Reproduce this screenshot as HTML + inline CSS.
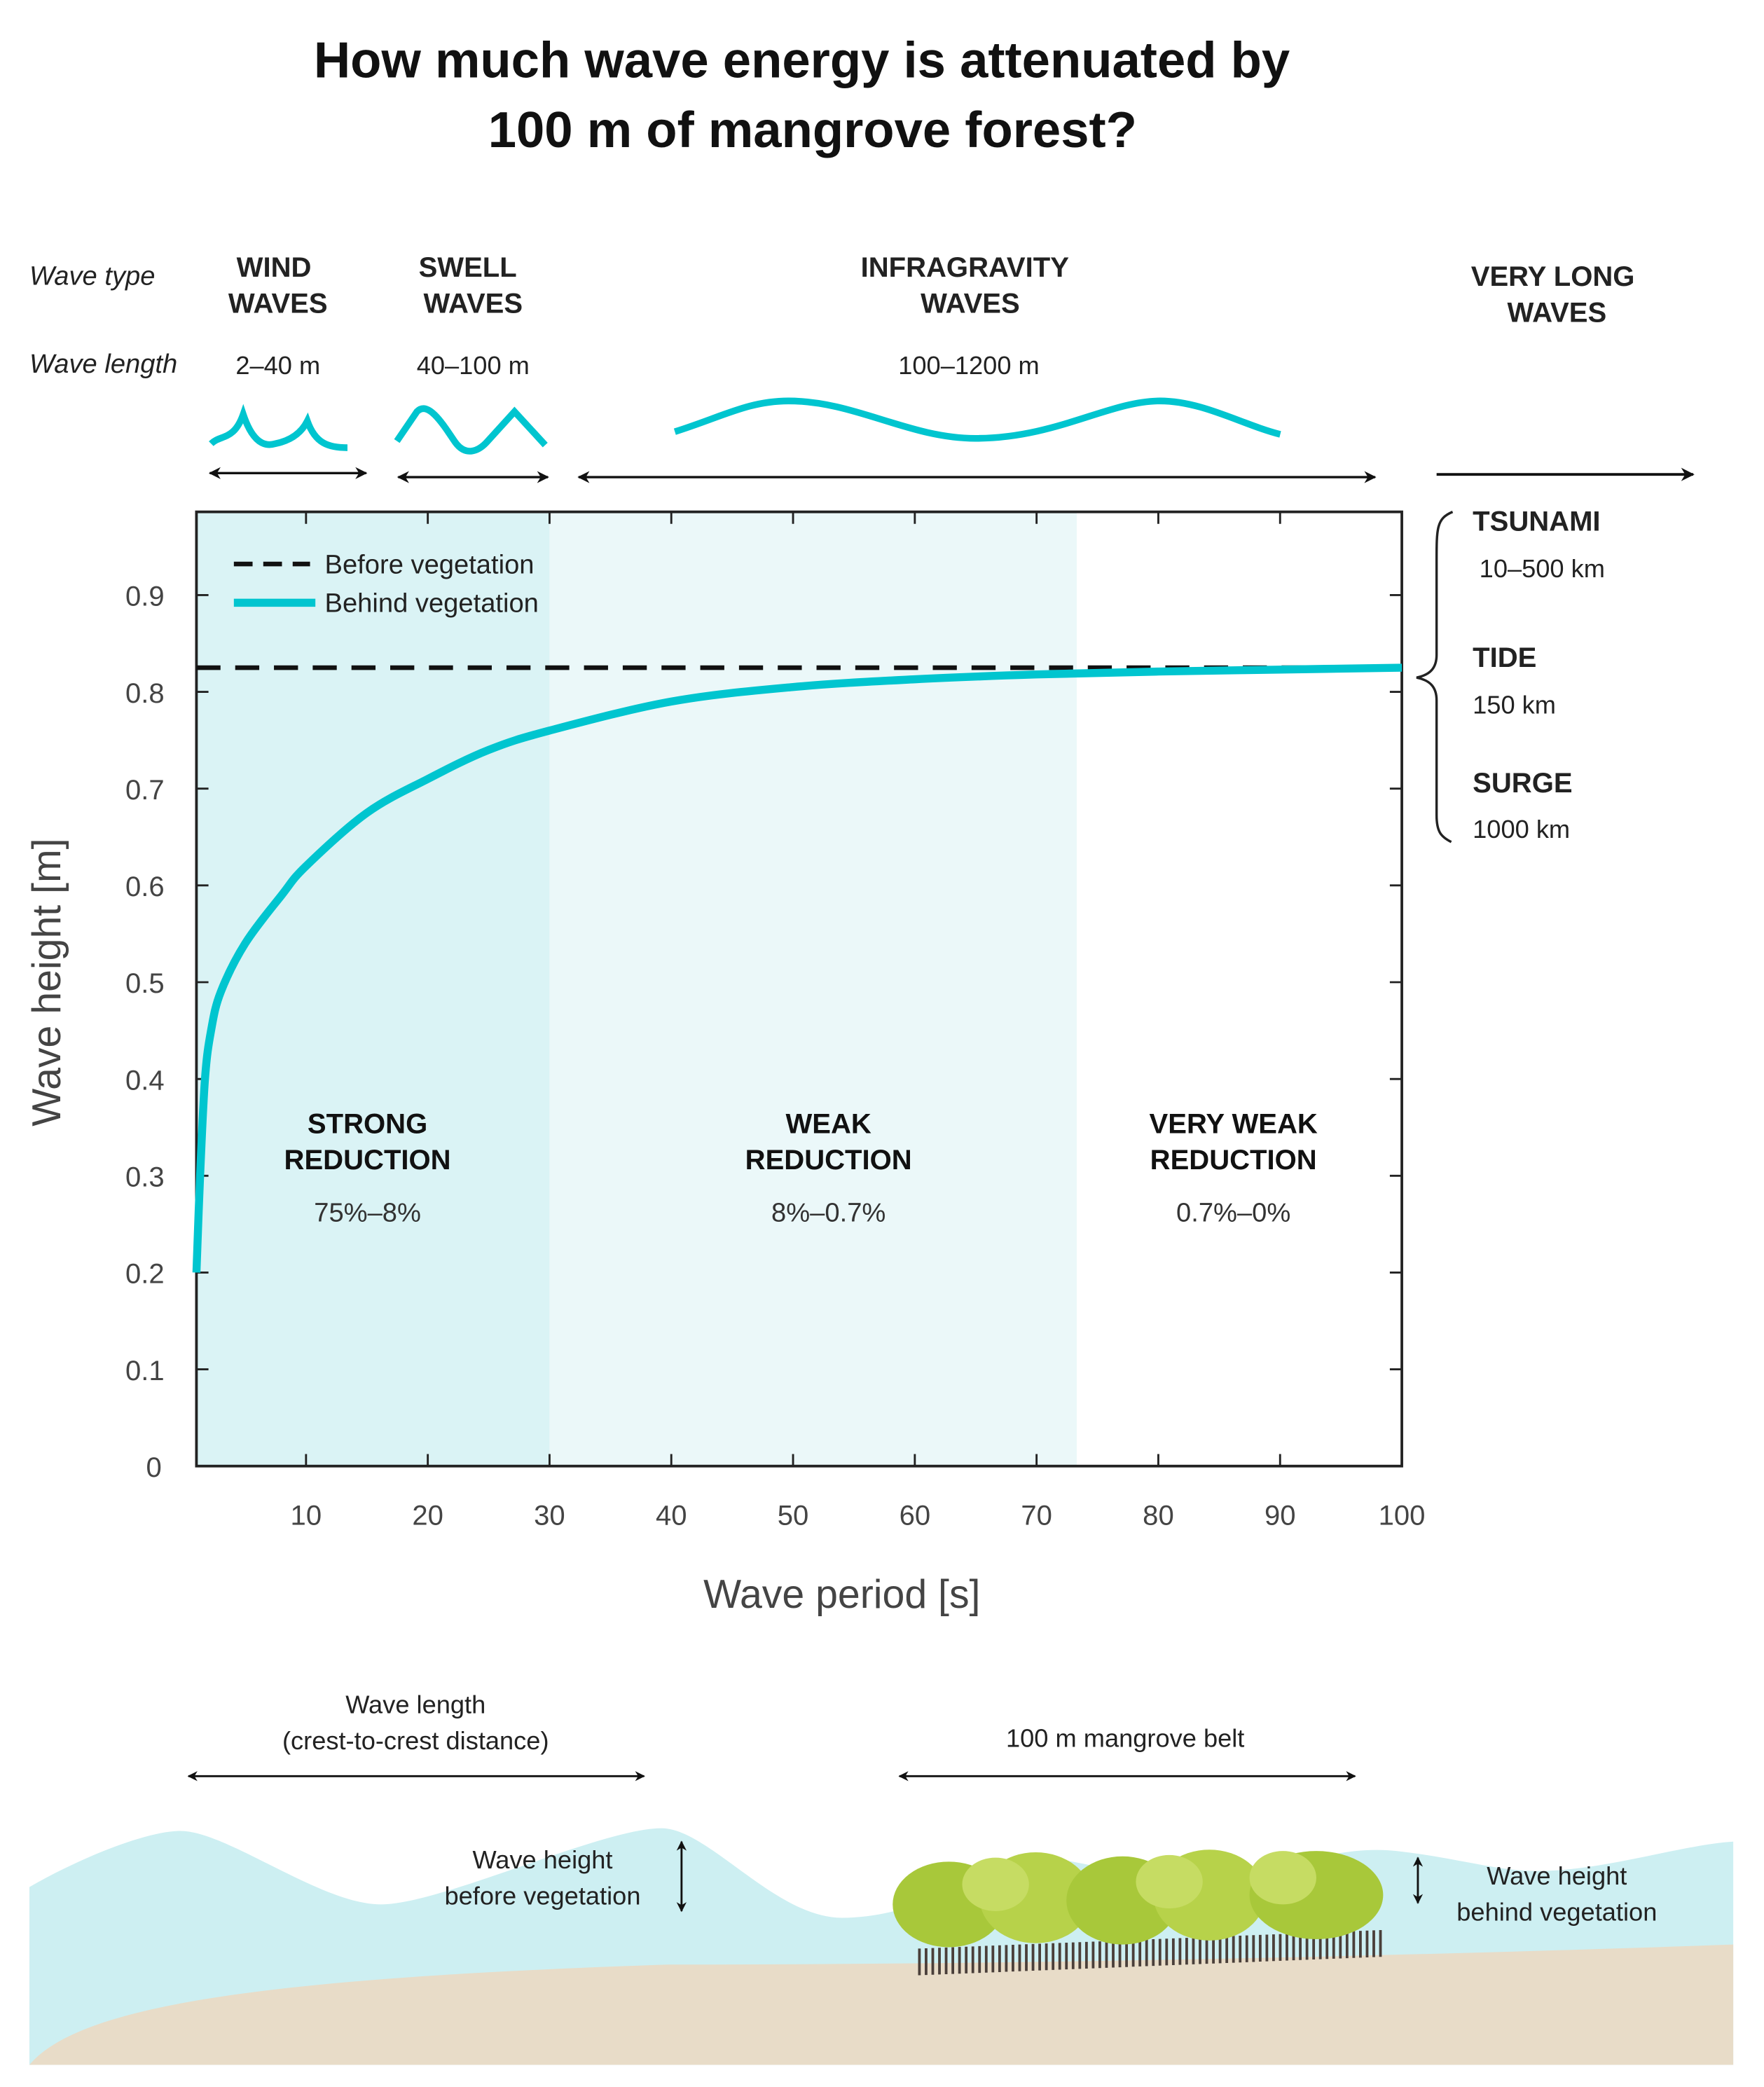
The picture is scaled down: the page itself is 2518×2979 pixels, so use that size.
<!DOCTYPE html>
<html><head><meta charset="utf-8"><style>
html,body{margin:0;padding:0;background:#fff;}
svg{display:block;}
text{font-family:"Liberation Sans","DejaVu Sans",sans-serif;}
</style></head><body>
<svg id="chart" width="2518" height="2979" viewBox="0 0 1320 1561.6" preserveAspectRatio="none" xmlns="http://www.w3.org/2000/svg">
<defs>
<marker id="ah" viewBox="0 0 10 10" refX="9" refY="5" markerWidth="5" markerHeight="5" orient="auto-start-reverse"><path d="M0,0 L10,5 L0,10 L3,5 z" fill="#111"/></marker>
</defs>
<g font-weight="bold" font-size="38" fill="#111" text-anchor="middle">
<text x="600" y="58">How much wave energy is attenuated by</text>
<text x="608" y="110">100 m of mangrove forest?</text>
</g>
<g fill="#222">
<text x="22" y="213" font-size="20" font-style="italic">Wave type</text>
<text x="22" y="279" font-size="20" font-style="italic">Wave length</text>
<g font-size="21" font-weight="bold" text-anchor="middle">
<text x="205" y="207">WIND</text><text x="208" y="234">WAVES</text>
<text x="350" y="207">SWELL</text><text x="354" y="234">WAVES</text>
<text x="722" y="207">INFRAGRAVITY</text><text x="726" y="234">WAVES</text>
<text x="1162" y="214">VERY LONG</text><text x="1165" y="241">WAVES</text>
</g>
<g font-size="19" text-anchor="middle">
<text x="208" y="280">2–40 m</text><text x="354" y="280">40–100 m</text><text x="725" y="280">100–1200 m</text>
</g>
</g>
<g fill="none" stroke="#00c5cf" stroke-width="5">
<path d="M158,332 C165,325 175,330 182,310 C188,328 196,335 206,332 C216,330 225,325 230,315 C236,332 246,335 260,335"/>
<path d="M297,330 L312,308 C320,300 330,315 340,330 C348,342 358,338 365,330 L385,308 L408,333"/>
<path d="M505,323 C540,312 560,300 590,300 C640,300 680,328 730,328 C790,328 830,300 868,300 C900,300 930,318 958,325"/>
</g>
<g stroke="#111" stroke-width="1.8" marker-start="url(#ah)" marker-end="url(#ah)">
<line x1="157" y1="354" x2="274" y2="354"/>
<line x1="298" y1="357" x2="410" y2="357"/>
<line x1="433" y1="357" x2="1029" y2="357"/>
</g>
<line x1="1075" y1="355" x2="1267" y2="355" stroke="#111" stroke-width="2" marker-end="url(#ah)"/>
<g id="plot"></g>
<g fill="#222">
<path d="M1087,383 C1075,388 1075,395 1075,420 L1075,490 C1075,500 1070,505 1060,507 C1070,509 1075,514 1075,524 L1075,610 C1075,622 1078,626 1086,630" fill="none" stroke="#222" stroke-width="1.8"/>
<g font-size="21" font-weight="bold"><text x="1102" y="397">TSUNAMI</text><text x="1102" y="499">TIDE</text><text x="1102" y="593">SURGE</text></g>
<g font-size="19"><text x="1107" y="432">10–500 km</text><text x="1102" y="534">150 km</text><text x="1102" y="627">1000 km</text></g>
</g>
<g>
<path fill="#cdeff2" d="M22,1420 L22,1412 C60,1390 110,1370 135,1370 C170,1370 240,1425 285,1425 C330,1425 450,1368 495,1368 C530,1368 580,1435 630,1435 C660,1435 690,1425 700,1418 C730,1400 760,1390 785,1390 C820,1395 860,1408 900,1405 C960,1400 1000,1380 1045,1385 C1090,1390 1120,1400 1150,1400 C1200,1400 1260,1380 1297,1378 L1297,1545 L22,1545 z"/>
<path fill="#e8dcc8" d="M22,1545 C60,1500 200,1480 500,1470 C800,1470 1100,1462 1297,1455 L1297,1545 z"/>
<g stroke="#4a3f3a" stroke-width="2">
<path id="roots" d=""/>
</g>
<g>
<ellipse cx="710" cy="1425" rx="42" ry="32" fill="#a8c83a"/>
<ellipse cx="775" cy="1420" rx="42" ry="34" fill="#b7d24a"/>
<ellipse cx="840" cy="1422" rx="42" ry="33" fill="#a8c83a"/>
<ellipse cx="905" cy="1418" rx="42" ry="34" fill="#b7d24a"/>
<ellipse cx="985" cy="1418" rx="50" ry="33" fill="#a8c83a"/>
<ellipse cx="745" cy="1410" rx="25" ry="20" fill="#c6dc63"/>
<ellipse cx="875" cy="1408" rx="25" ry="20" fill="#c6dc63"/>
<ellipse cx="960" cy="1405" rx="25" ry="20" fill="#c6dc63"/>
</g>
<g font-size="19" fill="#222" text-anchor="middle">
<text x="311" y="1282">Wave length</text><text x="311" y="1309">(crest-to-crest distance)</text>
<text x="842" y="1307">100 m mangrove belt</text>
<text x="406" y="1398">Wave height</text><text x="406" y="1425">before vegetation</text>
<text x="1165" y="1410">Wave height</text><text x="1165" y="1437">behind vegetation</text>
</g>
<g stroke="#111" stroke-width="1.5" marker-start="url(#ah)" marker-end="url(#ah)">
<line x1="141" y1="1329" x2="482" y2="1329"/>
<line x1="673" y1="1329" x2="1014" y2="1329"/>
<line x1="510" y1="1378" x2="510" y2="1430"/>
<line x1="1061" y1="1390" x2="1061" y2="1424"/>
</g>
</g>
</svg>
<script>
var xTicks=[10,20,30,40,50,60,70,80,90,100];
var yTicks=[0,0.1,0.2,0.3,0.4,0.5,0.6,0.7,0.8,0.9];
var periods=[1,1.3,1.7,2.2,3,5,8,10,15,20,25,30,40,50,60,70,80,90,100];
var behindHeights=[0.2,0.3,0.4,0.45,0.49,0.54,0.59,0.62,0.675,0.71,0.74,0.76,0.79,0.805,0.813,0.818,0.821,0.823,0.825];
var beforeHeight=[0.825];
var zoneBounds=[1,30,73.3];
var NS="http://www.w3.org/2000/svg";
var L=147,R=1049,T=383,B=1097;
function sx(v){return L+(v-1)*(R-L)/99;}
function sy(v){return B-v*(B-T)/0.986;}
var g=document.getElementById('plot');
function mk(tag,at,txt){var e=document.createElementNS(NS,tag);for(var k in at)e.setAttribute(k,at[k]);if(txt!=null)e.textContent=txt;g.appendChild(e);return e;}
var z1=mk('rect',{x:sx(zoneBounds[0]),y:T,width:sx(zoneBounds[1])-sx(zoneBounds[0]),height:B-T,fill:'#daf3f5'});


var z2=mk('rect',{x:sx(zoneBounds[1]),y:T,width:sx(zoneBounds[2])-sx(zoneBounds[1]),height:B-T,fill:'#ebf8f9'});


xTicks.forEach(function(t){
 var ln=mk('path',{d:'M'+sx(t)+','+B+'v-9M'+sx(t)+','+T+'v9',stroke:'#222','stroke-width':1.5});
 
 
 var tx=mk('text',{x:sx(t),y:B+44,'font-size':21,fill:'#444','text-anchor':'middle'},t);
 
 
});
yTicks.forEach(function(t){
 var ln=mk('path',{d:'M'+L+','+sy(t)+'h9M'+R+','+sy(t)+'h-9',stroke:'#222','stroke-width':1.5});
 
 
 var tx=mk('text',{x:t===0?121:123,y:sy(t)+8,'font-size':21,fill:'#444','text-anchor':'end'},t);
 
 
});
var fr=mk('rect',{x:L,y:T,width:R-L,height:B-T,fill:'none',stroke:'#222','stroke-width':2});


var dl=mk('line',{x1:L,x2:R,y1:sy(beforeHeight[0]),y2:sy(beforeHeight[0]),stroke:'#111','stroke-width':3.5,'stroke-dasharray':'18 11'});


var P=periods.map(function(p,i){return [sx(p),sy(behindHeights[i])];});
var d='M'+P[0][0]+','+P[0][1];
for(var i=0;i<P.length-1;i++){
 var p0=P[Math.max(0,i-1)],p1=P[i],p2=P[i+1],p3=P[Math.min(P.length-1,i+2)];
 var c1x=p1[0]+(p2[0]-p0[0])/6,c1y=p1[1]+(p2[1]-p0[1])/6;
 var c2x=p2[0]-(p3[0]-p1[0])/6,c2y=p2[1]-(p3[1]-p1[1])/6;
 d+=' C'+c1x+','+c1y+' '+c2x+','+c2y+' '+p2[0]+','+p2[1];
}
var cl=mk('path',{d:d,fill:'none',stroke:'#00c5cf','stroke-width':6,'stroke-linejoin':'round'});


var lg1=mk('line',{x1:175,x2:232,y1:422,y2:422,stroke:'#111','stroke-width':3.5,'stroke-dasharray':'14 8'});


var lt1=mk('text',{x:243,y:429,'font-size':20,fill:'#222'},'Before vegetation');


var lg2=mk('line',{x1:175,x2:236,y1:451,y2:451,stroke:'#00c5cf','stroke-width':6});


var lt2=mk('text',{x:243,y:458,'font-size':20,fill:'#222'},'Behind vegetation');


var zones=[[275,'STRONG','REDUCTION','75%–8%'],[620,'WEAK','REDUCTION','8%–0.7%'],[923,'VERY WEAK','REDUCTION','0.7%–0%']];
zones.forEach(function(z){
 var a=mk('text',{x:z[0],y:848,'font-size':21,'font-weight':'bold',fill:'#111','text-anchor':'middle'},z[1]);
 
 
 var b=mk('text',{x:z[0],y:875,'font-size':21,'font-weight':'bold',fill:'#111','text-anchor':'middle'},z[2]);
 
 
 var c=mk('text',{x:z[0],y:914,'font-size':20,fill:'#333','text-anchor':'middle'},z[3]);
 
 
});
var xt=mk('text',{x:630,y:1203,'font-size':30,fill:'#444','text-anchor':'middle'},'Wave period [s]');


var yt=mk('text',{x:0,y:0,'font-size':30,fill:'#444','text-anchor':'middle',transform:'translate(45,735) rotate(-90)'},'Wave height [m]');


var rd='';for(var x=688;x<1035;x+=5){var yb=1478-(x-688)*0.04;rd+='M'+x+','+(yb-20)+'v20';}
document.getElementById('roots').setAttribute('d',rd);
</script>
</body></html>
